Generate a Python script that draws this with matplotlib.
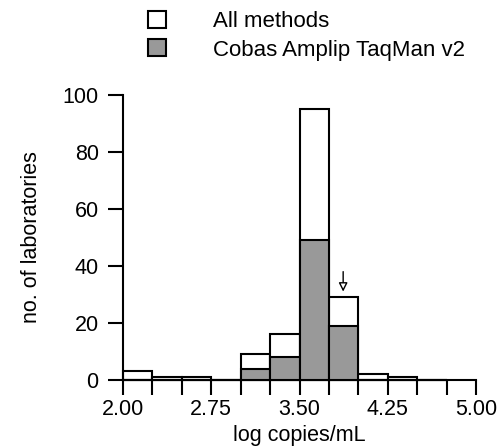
import numpy as np
import matplotlib
matplotlib.use("Agg")
import matplotlib.pyplot as plt
from matplotlib.patches import Patch

plt.rcParams["font.family"] = ["Liberation Sans", "DejaVu Sans"]

bin_edges = [2.00, 2.25, 2.50, 2.75, 3.00, 3.25, 3.50, 3.75, 4.00, 4.25, 4.50, 4.75]
all_methods = [3, 1, 1, 0, 9, 16, 95, 29, 2, 1, 0]
cobas = [0, 0, 0, 0, 4, 8, 49, 19, 0, 0, 0]
arrow_x = 3.87
arrow_y = (38, 31)
x_labels = ["2.00", "2.75", "3.50", "4.25", "5.00"]
y_ticks = [0, 20, 40, 60, 80, 100]

fig = plt.figure(figsize=(5.01, 4.48), dpi=100)
ax = fig.add_axes([0.2455, 0.152, 0.705, 0.636])

left = np.array(bin_edges[:-1])
width = 0.25
ax.bar(left, all_methods, width=width, align="edge", color="white",
       edgecolor="black", linewidth=1.5, clip_on=False, zorder=2)
ax.bar(left, cobas, width=width, align="edge", color="#999999",
       edgecolor="black", linewidth=1.5, clip_on=False, zorder=3)

ax.annotate("", xy=(arrow_x, arrow_y[1]), xytext=(arrow_x, arrow_y[0]),
            arrowprops=dict(arrowstyle="-|>", ec="black", fc="white", lw=1,
                            mutation_scale=13, shrinkA=0, shrinkB=0))

ax.set_xlim(2.0, 5.0)
ax.set_ylim(0, 100)
ax.set_xticks(np.arange(2.0, 5.01, 0.25), minor=True)
ax.set_xticks([float(s) for s in x_labels])
ax.set_xticklabels(x_labels)
ax.set_yticks(y_ticks)
ax.tick_params(axis="both", which="both", length=11, width=1.5,
               labelsize=15.5, pad=3)
ax.tick_params(axis="y", pad=6.5)

for s in ["top", "right"]:
    ax.spines[s].set_visible(False)
for s in ["left", "bottom"]:
    ax.spines[s].set_linewidth(1.5)

ax.set_xlabel("log copies/mL", fontsize=15.5, va="baseline")
ax.xaxis.set_label_coords(0.5, -0.214)
ax.set_ylabel("no. of laboratories", fontsize=15.5, va="center")
ax.yaxis.set_label_coords(-0.26, 0.5)

handles = [Patch(facecolor="white", edgecolor="black", linewidth=1.5),
           Patch(facecolor="#999999", edgecolor="black", linewidth=1.5)]
fig.legend(handles, ["All methods", "Cobas Amplip TaqMan v2"],
           loc="upper left", bbox_to_anchor=(0.256, 1.02), frameon=False,
           fontsize=16, handlelength=0.8, handleheight=0.8,
           handletextpad=2.1, labelspacing=0.32)

fig.savefig("out.png", dpi=100)
